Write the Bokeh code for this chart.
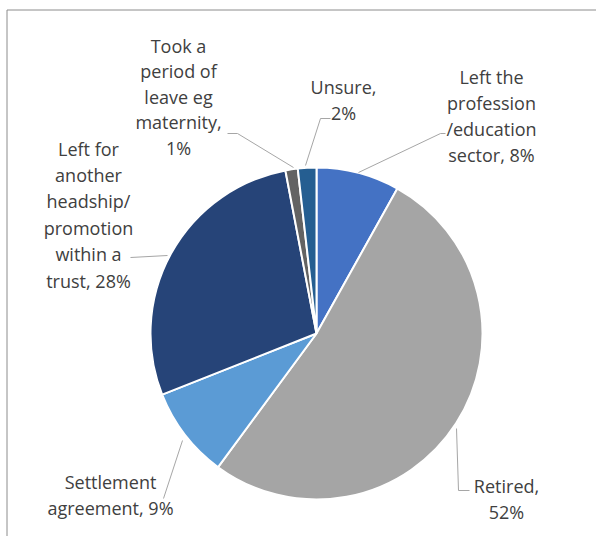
import math
from bokeh.plotting import figure
from bokeh.models import Range1d
from bokeh.core.properties import value
from bokeh.embed import file_html
from bokeh.resources import INLINE

# ---- data ----
categories = ["Left the profession /education sector", "Retired", "Settlement agreement",
              "Left for another headship/ promotion within a trust",
              "Took a period of leave eg maternity", "Unsure"]
shares = [8.1, 52.0, 8.9, 28.0, 1.2, 1.8]
pct_labels = ["8%", "52%", "9%", "28%", "1%", "2%"]
label_lines = [
    ["Left the", "profession", "/education", "sector, {}"],
    ["Retired,", "{}"],
    ["Settlement", "agreement, {}"],
    ["Left for", "another", "headship/", "promotion", "within a", "trust, {}"],
    ["Took a", "period of", "leave eg", "maternity,", "{}"],
    ["Unsure,", "{}"],
]
colors = ["#4472C4", "#A5A5A5", "#5B9BD5", "#264478", "#636363", "#255E91"]

# ---- layout (screen pixel coordinates) ----
W, H = 596, 536
def Y(sy):
    return 536 - sy

cx, cy, R = 316, 333, 166
label_pos = [(491, 76), (506, 485), (110, 481), (88, 148), (178, 45), (343, 86)]
line_step = [26, 26, 26, 26.4, 25.5, 26]
leaders = [
    [(358, 172), (440, 133), (445, 133)],
    [(456, 428), (458, 490), (469, 490)],
    [(182, 440), (163, 498)],
    [(167, 255), (130, 257)],
    [(293, 167), (237, 133), (227, 133)],
    [(305, 165), (320, 118), (330, 118)],
]

p = figure(width=W, height=H, output_backend="svg", toolbar_location=None,
           x_range=Range1d(0, W), y_range=Range1d(536 - H, 536), min_border=0)
p.axis.visible = False
p.grid.visible = False
p.outline_line_color = None
p.background_fill_color = "white"

# frame (left and top edges visible)
p.line([6.5, 6.5], [Y(9.5), Y(540)], line_color="#8c8c8c", line_width=1)
p.line([6.5, 600], [Y(9.5), Y(9.5)], line_color="#8c8c8c", line_width=1)

total = sum(shares)
cum = 0.0
starts, ends = [], []
for s in shares:
    a0 = math.pi / 2 - 2 * math.pi * cum / total
    cum += s
    a1 = math.pi / 2 - 2 * math.pi * cum / total
    starts.append(a1)
    ends.append(a0)

p.wedge(x=[cx] * len(shares), y=[Y(cy)] * len(shares), radius=R,
        start_angle=starts, end_angle=ends, direction="anticlock",
        fill_color=colors, line_color="white", line_width=2)

for pts in leaders:
    p.line([q[0] for q in pts], [Y(q[1]) for q in pts], line_color="#A6A6A6", line_width=1)

xs, ys, txt = [], [], []
for i, lines in enumerate(label_lines):
    x0, y0 = label_pos[i]
    for j, ln in enumerate(lines):
        xs.append(x0)
        ys.append(Y(y0 + j * line_step[i]))
        txt.append(ln.format(pct_labels[i]))

p.text(x=xs, y=ys, text=txt, text_align="center", text_baseline="middle",
       text_font=value("Open Sans"), text_font_size="18px", text_color="#404040")

open("out.html", "w").write(file_html(p, INLINE))
